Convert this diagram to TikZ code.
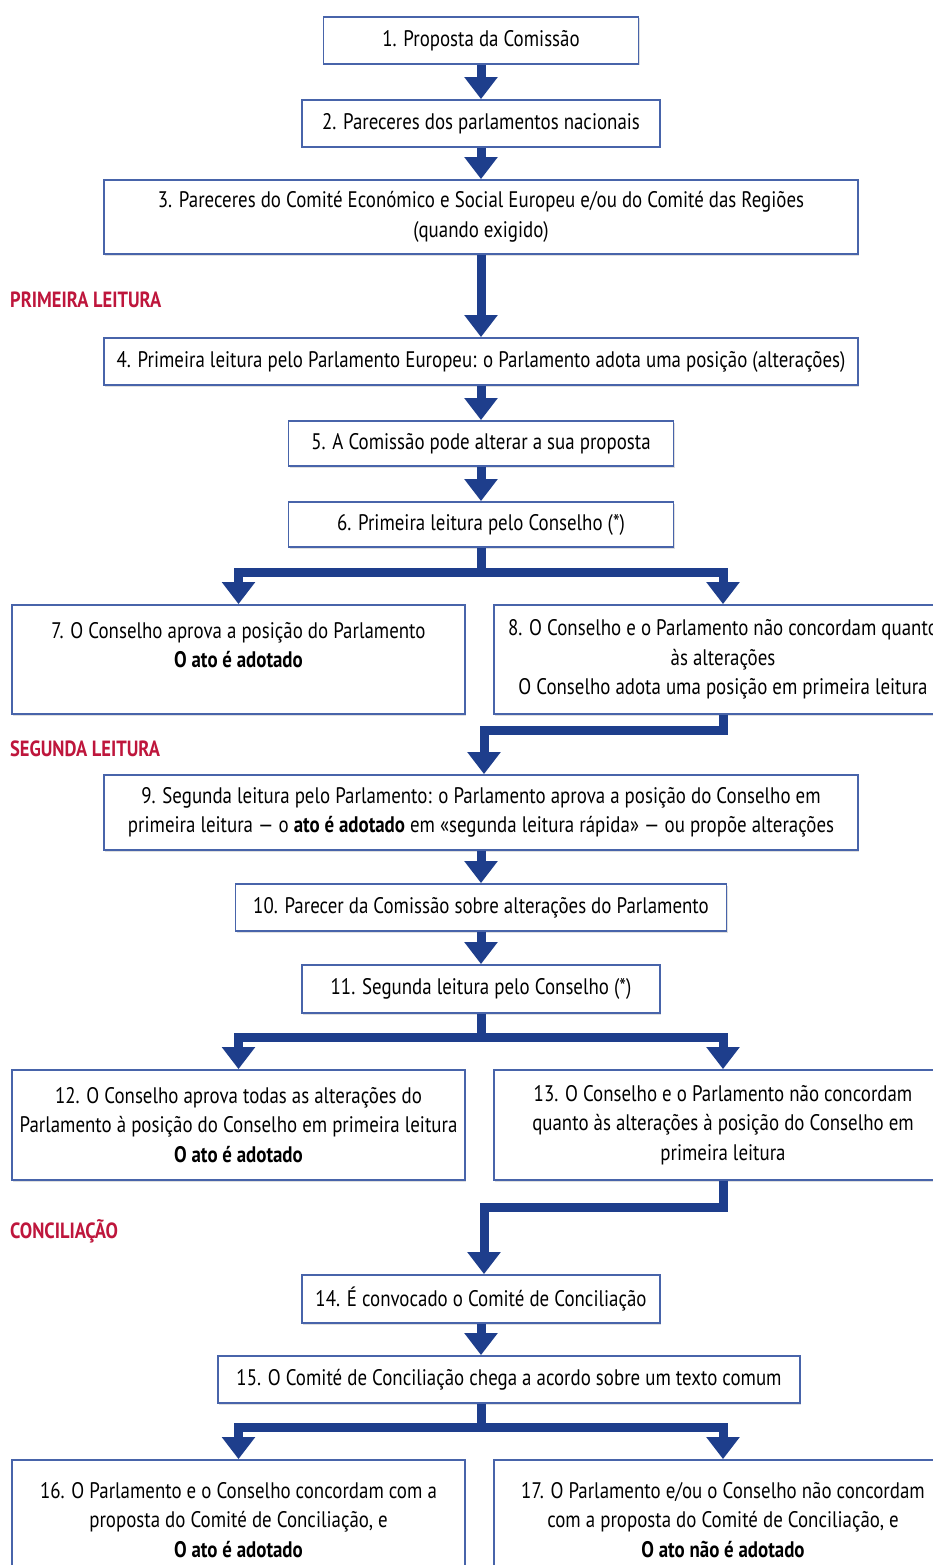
\documentclass[tikz,border=0pt]{standalone}
\usepackage{fontspec}
\setmainfont[FakeStretch=0.84]{PT Sans}
\usepackage{xcolor}
\usepackage{tikz}
\usetikzlibrary{positioning,arrows.meta,calc,shadows}
\definecolor{navy}{RGB}{30,62,140}
\definecolor{boxblue}{RGB}{72,100,170}
\definecolor{stagered}{RGB}{190,22,60}
\tikzset{
  box/.style   ={draw=boxblue, line width=1.8pt, fill=white, align=center,
                 font=\fontsize{22.5}{29.5}\selectfont, inner sep=2pt,
                 drop shadow={shadow xshift=1.2pt, shadow yshift=-1.5pt, opacity=0.25}},
  ln/.style    ={draw=navy, line width=9pt, line join=miter},
  ar/.style    ={ln, -{Triangle[width=32pt,length=22pt]}},
  stage/.style ={anchor=west, text=stagered, font=\fontsize{22}{24}\selectfont\bfseries, inner sep=0pt},
}

\begin{document}
\begin{tikzpicture}[x=1pt,y=-1pt]
\useasboundingbox (0,0) rectangle (933,1565);
\clip (0,0) rectangle (933,1565);
% steps
\node[box,minimum width=315pt,minimum height=47pt] (b1) at (481,40.5) {1. Proposta da Comissão};
\node[box,minimum width=358pt,minimum height=47pt] (b2) at (481,123.5) {2. Pareceres dos parlamentos nacionais};
\node[box,minimum width=754pt,minimum height=74pt] (b3) at (481,217) {3. Pareceres do Comité Económico e Social Europeu e/ou do Comité das Regiões\\ (quando exigido)};
\node[stage] (s1) at (10,300) {PRIMEIRA LEITURA};
\node[box,minimum width=754pt,minimum height=47pt] (b4) at (481,361.5) {4. Primeira leitura pelo Parlamento Europeu: o Parlamento adota uma posição (alterações)};
\node[box,minimum width=385pt,minimum height=45pt] (b5) at (481,443.5) {5. A Comissão pode alterar a sua proposta};
\node[box,minimum width=385pt,minimum height=45pt] (b6) at (481,524.5) {6. Primeira leitura pelo Conselho (*)};
\node[box,minimum width=453pt,minimum height=109pt] (b7) at (238.5,659.5) {7. O Conselho aprova a posição do Parlamento\\ \textbf{O ato é adotado}\\ \mbox{}};
\node[box,minimum width=458pt,minimum height=109pt] (b8) at (723,659.5) {8. O Conselho e o Parlamento não concordam quanto\\ às alterações\\ O Conselho adota uma posição em primeira leitura};
\node[stage] (s2) at (10,749) {SEGUNDA LEITURA};
\node[box,minimum width=754pt,minimum height=75pt] (b9) at (481,812.5) {9. Segunda leitura pelo Parlamento: o Parlamento aprova a posição do Conselho em\\ primeira leitura --- o \textbf{ato é adotado} em «segunda leitura rápida» --- ou propõe alterações};
\node[box,minimum width=491pt,minimum height=47pt] (b10) at (481,907.5) {10. Parecer da Comissão sobre alterações do Parlamento};
\node[box,minimum width=358pt,minimum height=48pt] (b11) at (481,989) {11. Segunda leitura pelo Conselho (*)};
\node[box,minimum width=453pt,minimum height=110pt] (b12) at (238.5,1125) {12. O Conselho aprova todas as alterações do\\ Parlamento à posição do Conselho em primeira leitura\\ \textbf{O ato é adotado}};
\node[box,minimum width=458pt,minimum height=110pt] (b13) at (723,1125) {13. O Conselho e o Parlamento não concordam\\ quanto às alterações à posição do Conselho em\\ primeira leitura};
\node[stage] (s3) at (10,1231) {CONCILIAÇÃO};
\node[box,minimum width=358pt,minimum height=48pt] (b14) at (481,1299) {14. É convocado o Comité de Conciliação};
\node[box,minimum width=582pt,minimum height=47pt] (b15) at (509,1379.5) {15. O Comité de Conciliação chega a acordo sobre um texto comum};
\node[box,minimum width=453pt,minimum height=120pt] (b16) at (238.5,1520) {16. O Parlamento e o Conselho concordam com a\\ proposta do Comité de Conciliação, e\\ \textbf{O ato é adotado}};
\node[box,minimum width=458pt,minimum height=120pt] (b17) at (723,1520) {17. O Parlamento e/ou o Conselho não concordam\\ com a proposta do Comité de Conciliação, e\\ \textbf{O ato não é adotado}};
% junctions
\coordinate (j6) at (481,572);
\coordinate (j8) at (484,730);
\coordinate (j11) at (481,1037);
\coordinate (j13) at (484,1207);
\coordinate (j15) at (481,1427);
% arrows
\draw[ar] (b1)--(b2); \draw[ar] (b2)--(b3); \draw[ar] (b3)--(b4); \draw[ar] (b4)--(b5); \draw[ar] (b5)--(b6);
\draw[ln] (b6)--(j6); \draw[ar] (j6) -| (b7); \draw[ar] (j6) -| (b8);
\draw[ar] (b8.south) |- (j8) -- (j8 |- b9.north);
\draw[ar] (b9)--(b10); \draw[ar] (b10)--(b11);
\draw[ln] (b11)--(j11); \draw[ar] (j11) -| (b12); \draw[ar] (j11) -| (b13);
\draw[ar] (b13.south) |- (j13) -- (j13 |- b14.north);
\draw[ar] (b14) -- (b14 |- b15.north);
\draw[ln] (j15 |- b15.south)--(j15); \draw[ar] (j15) -| (b16); \draw[ar] (j15) -| (b17);
\end{tikzpicture}
\end{document}
